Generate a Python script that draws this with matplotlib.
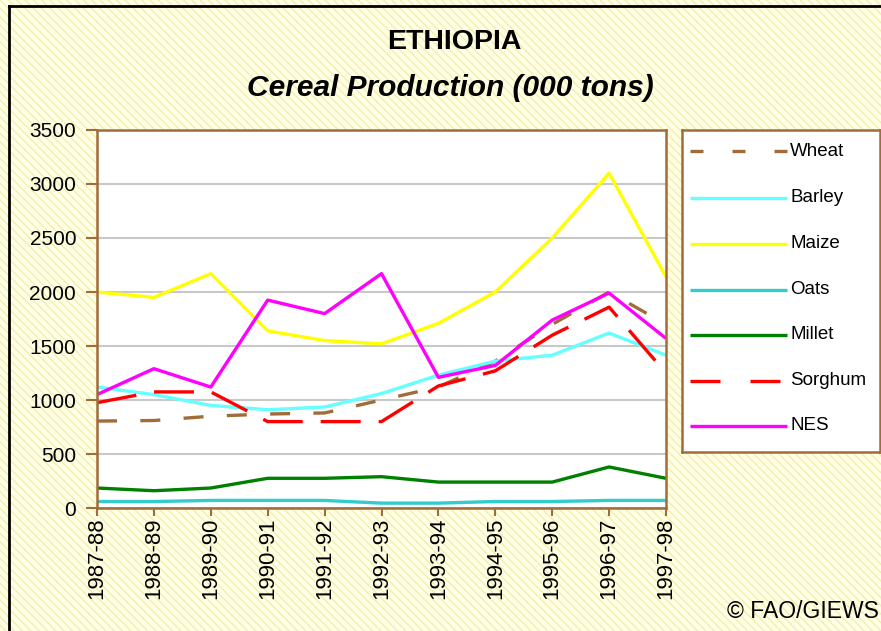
import matplotlib
matplotlib.use("Agg")
import matplotlib.pyplot as plt
from matplotlib.patches import Rectangle
from matplotlib.lines import Line2D

seasons = ["1987-88", "1988-89", "1989-90", "1990-91", "1991-92", "1992-93",
           "1993-94", "1994-95", "1995-96", "1996-97", "1997-98"]
wheat = [805, 810, 850, 870, 880, 1000, 1120, 1360, 1700, 2000, 1700]
barley = [1120, 1050, 950, 910, 935, 1060, 1230, 1360, 1415, 1620, 1415]
maize = [2000, 1950, 2170, 1640, 1550, 1520, 1710, 2000, 2500, 3100, 2140]
oats = [60, 60, 70, 70, 70, 45, 45, 60, 60, 70, 70]
millet = [185, 160, 185, 275, 275, 290, 240, 240, 240, 380, 275]
sorghum = [975, 1075, 1075, 800, 800, 800, 1130, 1270, 1600, 1860, 1250]
nes = [1050, 1290, 1120, 1925, 1800, 2170, 1210, 1320, 1740, 1990, 1570]

names = ["Wheat", "Barley", "Maize", "Oats", "Millet", "Sorghum", "NES"]
series = [wheat, barley, maize, oats, millet, sorghum, nes]
colors = ["#A06C3A", "#66FFFF", "#FFFF00", "#33CCCC", "#008000", "#FF0000", "#FF00FF"]
plot_dashes = [(6, 7), None, None, None, None, (12, 5.4), None]
legend_dashes = [(3.9, 8.7), None, None, None, None, (9, 9), None]

plt.rcParams['font.family'] = ['Liberation Sans', 'DejaVu Sans']

W, H = 881, 631
fig = plt.figure(figsize=(W / 100, H / 100), dpi=100)
fig.patch.set_facecolor("#FFFFE6")
bg = Rectangle((0, 0), 1, 1, transform=fig.transFigure, facecolor="#FFFFE6",
               edgecolor="#F3EDB0", hatch="\\\\\\\\", linewidth=0, zorder=-10)
fig.add_artist(bg)

# frame lines
fig.add_artist(Line2D([9 / W, 1], [1 - 6 / H, 1 - 6 / H], color="black", lw=2, transform=fig.transFigure))
fig.add_artist(Line2D([9 / W, 9 / W], [0, 1 - 6 / H], color="black", lw=2, transform=fig.transFigure))

ax = fig.add_axes([97 / W, 1 - 508 / H, (666 - 97) / W, (508 - 130) / H])
ax.set_facecolor("white")
x = list(range(len(seasons)))
for name, vals, c, d in zip(names, series, colors, plot_dashes):
    line, = ax.plot(x, vals, color=c, lw=2.4, label=name, solid_capstyle="butt")
    if d is not None:
        line.set_dashes(d)

ax.set_xlim(0, len(seasons) - 1)
ax.set_ylim(0, 3500)
ax.set_yticks(range(0, 3501, 500))
ax.set_xticks(x)
ax.set_xticklabels(seasons, rotation=90, fontsize=16)
ax.tick_params(axis="y", labelsize=15, direction="out", length=8, color="#A06C3A", width=1.5, pad=7)
ax.tick_params(axis="x", direction="out", length=6, color="#A06C3A", width=1.5, pad=1)
ax.grid(axis="y", color="#C8C8C8", lw=1.5)
ax.set_axisbelow(True)
for s in ax.spines.values():
    s.set_color("#A06C3A")
    s.set_linewidth(1.8)

fig.text(454 / W, 1 - 42 / H, "ETHIOPIA", ha="center", va="center", fontsize=20.5, fontweight="bold")
fig.text(450 / W, 1 - 88 / H, "Cereal Production (000 tons)", ha="center", va="center",
         fontsize=21.5, fontweight="bold", fontstyle="italic")

# legend box
lax = fig.add_axes([682 / W, 1 - 452 / H, (880 - 682) / W, (452 - 130) / H])
lax.set_xlim(682, 880)
lax.set_ylim(452, 130)
lax.set_xticks([])
lax.set_yticks([])
lax.set_facecolor("white")
for s in lax.spines.values():
    s.set_color("#A06C3A")
    s.set_linewidth(1.8)
ys = [151, 198, 244, 290, 335, 381, 426]
for name, c, d, yy in zip(names, colors, legend_dashes, ys):
    ln, = lax.plot([690, 787], [yy, yy], color=c, lw=2.4, solid_capstyle="butt")
    if d is not None:
        ln.set_dashes(d)
    lax.text(790, yy, name, va="center", ha="left", fontsize=13.5)

fig.text(727 / W, 1 - 612 / H, "© FAO/GIEWS", ha="left", va="center", fontsize=16.5)

fig.savefig("out.png", dpi=100, facecolor=fig.get_facecolor())
